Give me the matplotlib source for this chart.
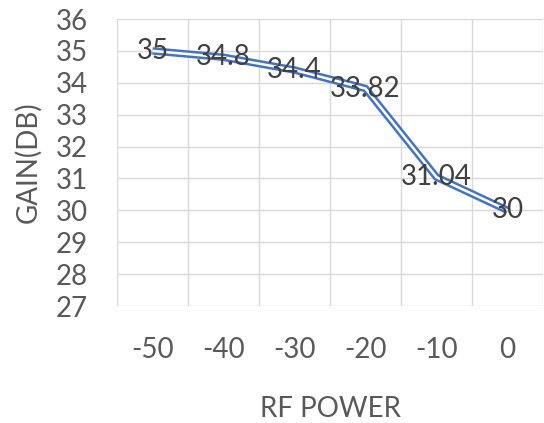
import matplotlib
matplotlib.use("Agg")
import matplotlib.pyplot as plt
import numpy as np

categories = ["-50", "-40", "-30", "-20", "-10", "0"]
gain_db = [35, 34.8, 34.4, 33.82, 31.04, 30]
data_labels = ["35", "34.8", "34.4", "33.82", "31.04", "30"]
y_ticks = [27, 28, 29, 30, 31, 32, 33, 34, 35, 36]

plt.rcParams['font.family'] = ['Lato', 'DejaVu Sans']

fig = plt.figure(figsize=(5.44, 4.23), dpi=100)
ax = fig.add_axes([117/544, 1-306/423, (543-117)/544, (306-19)/423])

tick_color = "#595959"
grid_color = "#d9d9d9"
fs = 20

n = len(categories)
xpos = np.arange(n)
ax.set_xlim(-0.5, n-0.5)
ax.set_ylim(y_ticks[0], y_ticks[-1])
ax.set_xticks(xpos)
ax.set_xticklabels(categories)
ax.set_xticks(np.arange(-0.5, n, 1.0), minor=True)
ax.set_yticks(y_ticks)
ax.tick_params(axis='both', which='both', length=0, colors=tick_color, labelsize=fs)
ax.tick_params(axis='x', which='major', pad=22)
ax.tick_params(axis='y', pad=21)
ax.grid(True, axis='y', which='major', color=grid_color, lw=1)
ax.grid(True, axis='x', which='minor', color=grid_color, lw=1)
for s in ax.spines.values():
    s.set_visible(False)
ax.set_axisbelow(True)

ax.set_xlabel("RF POWER", fontsize=fs, color=tick_color, labelpad=24)
ax.set_ylabel("GAIN(DB)", fontsize=fs, color=tick_color, labelpad=10)

ax.plot(xpos, gain_db, color="#4472C4", lw=5.4, solid_joinstyle='miter', solid_capstyle='butt')
ax.plot(xpos, gain_db, color="white", lw=1.8, solid_joinstyle='miter', solid_capstyle='butt')
for xv, yv, lab in zip(xpos, gain_db, data_labels):
    ax.text(xv, yv, lab, ha='center', va='center', fontsize=fs, color="#404040")

fig.savefig("out.png", dpi=100, facecolor="white")
